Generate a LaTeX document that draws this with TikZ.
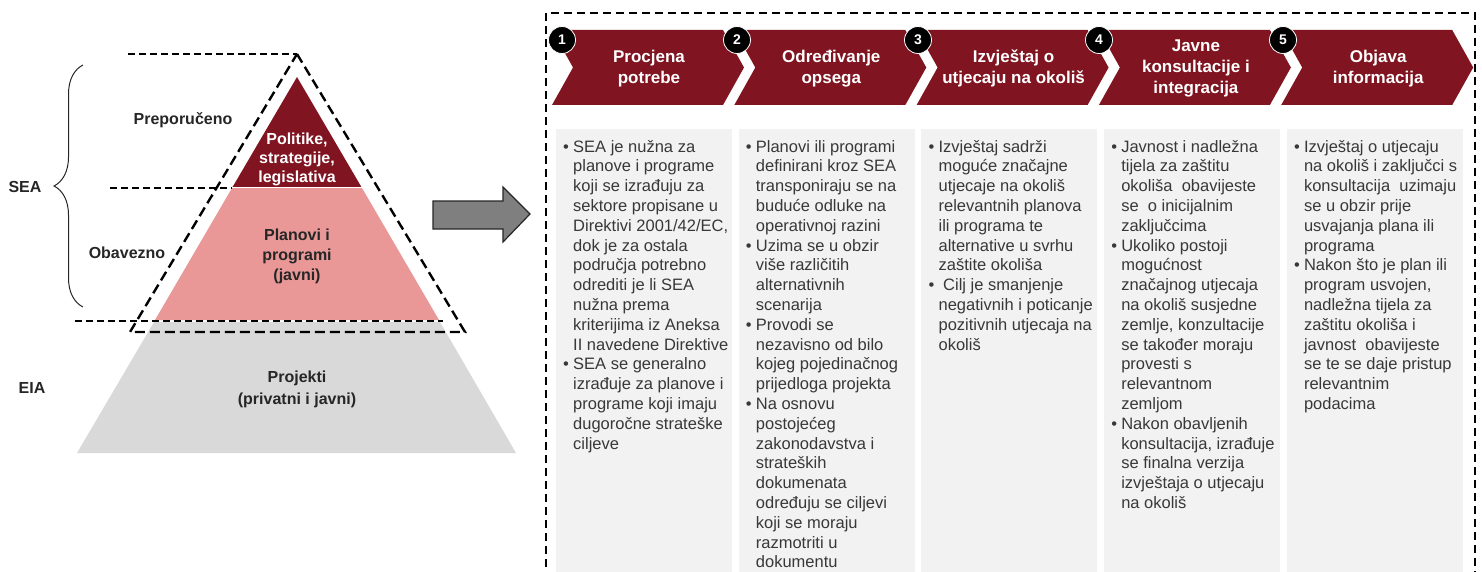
\documentclass[tikz,border=0pt]{standalone}
\usepackage{fontspec}
\setmainfont{Liberation Sans}
\usetikzlibrary{decorations.pathreplacing}

\definecolor{seared}{HTML}{801521}
\definecolor{seapink}{HTML}{E99797}
\definecolor{eiagray}{HTML}{D9D9D9}
\definecolor{colgray}{HTML}{F2F2F2}
\definecolor{arrowgray}{HTML}{7F7F7F}
\definecolor{bodytxt}{HTML}{383838}
\definecolor{sidetxt}{HTML}{262626}

\newcommand\bul{\strut\makebox[10pt][l]{•}}
\newcommand\ind{\hspace*{10pt}}

\begin{document}
\begin{tikzpicture}[x=1pt,y=-1pt,
  side/.style={font=\fontsize{16}{20}\selectfont\bfseries,text=sidetxt},
  band/.style={font=\fontsize{16}{20}\selectfont\bfseries,align=center,text=sidetxt},
  guide/.style={dash pattern=on 7pt off 4pt,line width=1.4pt},
  outline/.style={dash pattern=on 10pt off 5pt,line width=2.4pt},
  frame/.style={dash pattern=on 8pt off 5pt,line width=2pt},
  chevtxt/.style={font=\fontsize{17}{21}\selectfont\bfseries,text=white,align=center},
  badge/.style={circle,fill=black,draw=white,line width=0.8pt,minimum size=27pt,inner sep=0pt,
    text=white,font=\fontsize{14}{14}\selectfont\bfseries},
  coltxt/.style={anchor=north west,inner sep=0pt,align=left,text=bodytxt,
    font=\fontsize{16.5}{19.8}\selectfont}]
\useasboundingbox (0,0) rectangle (1482,572);
\clip (0,0) rectangle (1482,572);

\fill[seared] (297,77) -- (362,188) -- (232,188) -- cycle;
\fill[seapink] (232,188) -- (362,188) -- (439,320) -- (155,320) -- cycle;
\fill[eiagray] (154,322) -- (440,322) -- (516,453) -- (77,453) -- cycle;
\draw[white,line width=1pt] (232,188) -- (362,188);

\draw[guide] (128,54) -- (297,54);
\draw[guide] (110,188) -- (232,188);
\draw[guide] (75,321) -- (443,321);
\draw[outline] (297,54) -- (465,332) -- (130,332) -- cycle;

\draw[sidetxt,line width=1pt,decorate,decoration={brace,amplitude=29pt}] (83,307) -- (83,65);

\node[side] (sea) at (25,187) {SEA};
\node[side] (eia) at (32,388) {EIA};
\node[side] (prep) at (183,120) {Preporučeno};
\node[side] (obav) at (127,253) {Obavezno};
\node[band,text=white,font=\fontsize{16}{19}\selectfont\bfseries] (politike) at (297,159) {Politike,\\strategije,\\legislativa};
\node[band] (planovi) at (297,256) {Planovi i\\programi\\(javni)};
\node[band,font=\fontsize{16}{22}\selectfont\bfseries] (projekti) at (297,389) {Projekti\\(privatni i javni)};

\draw[fill=arrowgray,draw=sidetxt,line width=1.2pt] (433,201) -- (503,201) -- (503,187) -- (530,214)
  -- (503,242) -- (503,229) -- (433,229) -- cycle;

\draw[frame] (546,580) -- (546,13) -- (1475,13) -- (1475,580);

\foreach \i/\t in {0/{Procjena\\potrebe},1/{Određivanje\\opsega},2/{Izvještaj o\\utjecaju na okoliš},
  3/{Javne\\konsultacije i\\integracija},4/{Objava\\informacija}}{
  \pgfmathsetmacro\L{552+182.3*\i}
  \fill[seared] (\L,30) -- (\L+171,30) -- (\L+192,67.5) -- (\L+171,105) -- (\L,105) -- (\L+21,67.5) -- cycle;
  \node[chevtxt] (step\i) at (\L+97,68.5) {\t};
}
\foreach \n/\x in {1/562,2/737,3/918,4/1099,5/1283}
  \node[badge] (num\n) at (\x,40) {\n};

\foreach \i in {0,...,4}
  \fill[colgray] ({556+182.7*\i},129) rectangle ++(176,460);

\node[coltxt] (txt1) at (563,138) {\bul SEA je nužna za\\ \ind planove i programe\\ \ind koji se izrađuju za\\
  \ind sektore propisane u\\ \ind Direktivi 2001/42/EC,\\ \ind dok je za ostala\\ \ind područja potrebno\\
  \ind odrediti je li SEA\\ \ind nužna prema\\ \ind kriterijima iz Aneksa\\ \ind II navedene Direktive\\
  \bul SEA se generalno\\ \ind izrađuje za planove i\\ \ind programe koji imaju\\ \ind dugoročne strateške\\
  \ind ciljeve};
\node[coltxt] (txt2) at (745.7,138) {\bul Planovi ili programi\\ \ind definirani kroz SEA\\ \ind transponiraju se na\\
  \ind buduće odluke na\\ \ind operativnoj razini\\
  \bul Uzima se u obzir\\ \ind više različitih\\ \ind alternativnih\\ \ind scenarija\\
  \bul Provodi se\\ \ind nezavisno od bilo\\ \ind kojeg pojedinačnog\\ \ind prijedloga projekta\\
  \bul Na osnovu\\ \ind postojećeg\\ \ind zakonodavstva i\\ \ind strateških\\ \ind dokumenata\\
  \ind određuju se ciljevi\\ \ind koji se moraju\\ \ind razmotriti u\\ \ind dokumentu};
\node[coltxt] (txt3) at (928.4,138) {\bul Izvještaj sadrži\\ \ind moguće značajne\\ \ind utjecaje na okoliš\\
  \ind relevantnih planova\\ \ind ili programa te\\ \ind alternative u svrhu\\ \ind zaštite okoliša\\
  \bul\ Cilj je smanjenje\\ \ind negativnih i poticanje\\ \ind pozitivnih utjecaja na\\ \ind okoliš};
\node[coltxt] (txt4) at (1111.1,138) {\bul Javnost i nadležna\\ \ind tijela za zaštitu\\ \ind okoliša\ \ obavijeste\\
  \ind se\ \ o inicijalnim\\ \ind zaključcima\\
  \bul Ukoliko postoji\\ \ind mogućnost\\ \ind značajnog utjecaja\\ \ind na okoliš susjedne\\
  \ind zemlje, konzultacije\\ \ind se također moraju\\ \ind provesti s\\ \ind relevantnom\\ \ind zemljom\\
  \bul Nakon obavljenih\\ \ind konsultacija, izrađuje\\ \ind se finalna verzija\\ \ind izvještaja o utjecaju\\
  \ind na okoliš};
\node[coltxt] (txt5) at (1293.8,138) {\bul Izvještaj o utjecaju\\ \ind na okoliš i zaključci s\\
  \ind konsultacija\ \ uzimaju\\ \ind se u obzir prije\\ \ind usvajanja plana ili\\ \ind programa\\
  \bul Nakon što je plan ili\\ \ind program usvojen,\\ \ind nadležna tijela za\\ \ind zaštitu okoliša i\\
  \ind javnost\ \ obavijeste\\ \ind se te se daje pristup\\ \ind relevantnim\\ \ind podacima};
\end{tikzpicture}
\end{document}
